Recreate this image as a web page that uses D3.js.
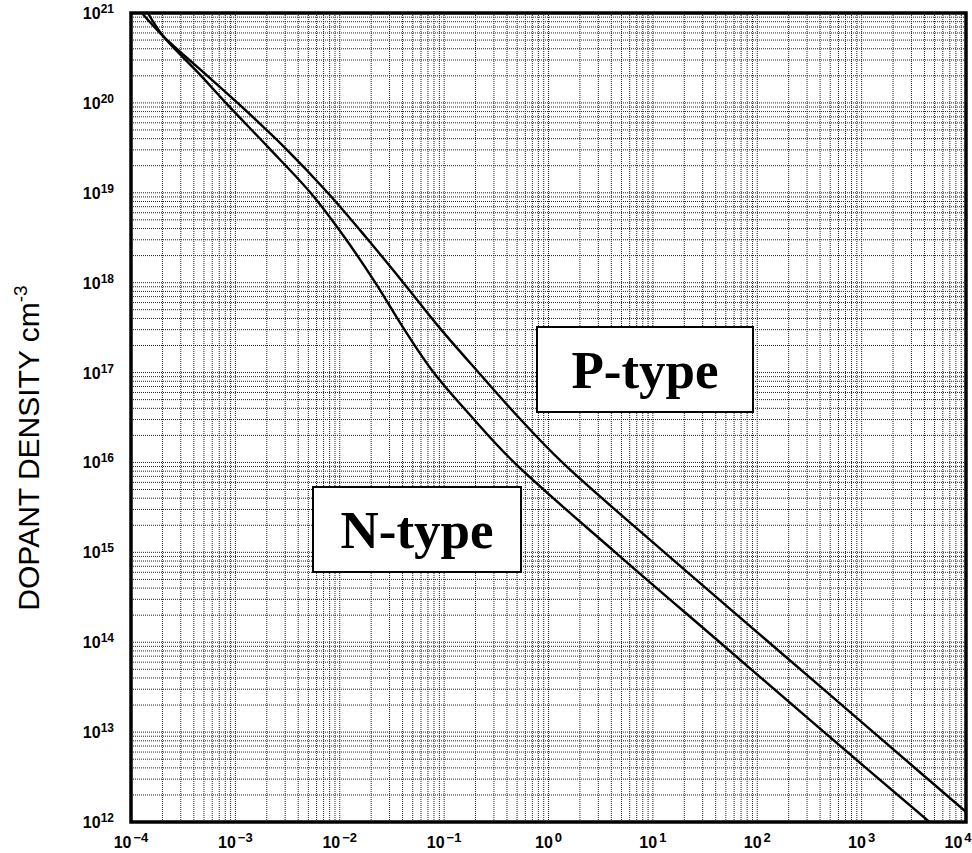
<!DOCTYPE html>
<html>
<head>
<meta charset="utf-8">
<script src="https://cdn.jsdelivr.net/npm/d3@7"></script>
<style>
  body { margin: 0; background: #fff; }
</style>
</head>
<body>
<div id="chart"></div>
<script>
// axis decades (powers of ten)
var xExponents = [-4, -3, -2, -1, 0, 1, 2, 3, 4];
var yExponents = [12, 13, 14, 15, 16, 17, 18, 19, 20, 21];

// N-type: dopant density (cm-3) vs resistivity (ohm-cm)
var nDensity     = [1e21, 5.5e20, 2e20, 1e20, 3.16e19, 1e19, 3.16e18, 1e18, 3.16e17, 1e17, 3.16e16, 1e16, 1e15, 1e14, 1e13, 1e12];
var nResistivity = [1.45e-4, 2.04e-4, 4.7e-4, 8.1e-4, 2.09e-3, 5.25e-3, 0.0112, 0.0219, 0.0405, 0.0794, 0.186, 0.468, 4.37, 43.7, 437, 4470];

// P-type
var pDensity     = [1e21, 5.5e20, 2e20, 1e20, 3.16e19, 1e19, 3.16e18, 1e18, 3.16e17, 1e17, 3.16e16, 1e16, 1e15, 1e14, 1e13, 1e12];
var pResistivity = [1.27e-4, 2.04e-4, 5.4e-4, 1.05e-3, 2.99e-3, 7.67e-3, 0.018, 0.0407, 0.0902, 0.214, 0.519, 1.355, 12.9, 129, 1294, 12940];

var seriesNames = ["N-type", "P-type"];

var margin = {top: 13, right: 6, bottom: 31, left: 131};
var width = 972 - margin.left - margin.right,
    height = 853 - margin.top - margin.bottom;

var svg = d3.select("#chart").append("svg")
    .attr("width", 972)
    .attr("height", 853);

var g = svg.append("g")
    .attr("transform", "translate(" + margin.left + "," + margin.top + ")");

var x = d3.scaleLog()
    .domain([1e-4, 1e4])
    .range([0, width]);

var y = d3.scaleLog()
    .domain([1e12, 1e21])
    .range([height, 0]);

// minor + major grid values (1..9 in each decade)
var xGrid = [], yGrid = [];
xExponents.forEach(function(e, i) {
    if (i === xExponents.length - 1) { xGrid.push(Math.pow(10, e)); return; }
    for (var k = 1; k <= 9; k++) xGrid.push(k * Math.pow(10, e));
});
yExponents.forEach(function(e, i) {
    if (i === yExponents.length - 1) { yGrid.push(Math.pow(10, e)); return; }
    for (var k = 1; k <= 9; k++) yGrid.push(k * Math.pow(10, e));
});

g.append("g").attr("class", "grid")
    .selectAll("line.v")
    .data(xGrid)
    .enter().append("line")
    .attr("x1", d => x(d)).attr("x2", d => x(d))
    .attr("y1", 0).attr("y2", height)
    .attr("stroke", "#222")
    .attr("stroke-width", 1)
    .attr("stroke-dasharray", "1,1");

g.append("g").attr("class", "grid")
    .selectAll("line.h")
    .data(yGrid)
    .enter().append("line")
    .attr("y1", d => y(d)).attr("y2", d => y(d))
    .attr("x1", 0).attr("x2", width)
    .attr("stroke", "#222")
    .attr("stroke-width", 1)
    .attr("stroke-dasharray", "1,1");

// curves
g.append("clipPath").attr("id", "clip")
    .append("rect").attr("width", width).attr("height", height);

var line = d3.line()
    .x(d => x(d[0]))
    .y(d => y(d[1]))
    .curve(d3.curveCatmullRom.alpha(0.5));

var series = [
    d3.zip(nResistivity, nDensity),
    d3.zip(pResistivity, pDensity)
];

g.append("g").attr("clip-path", "url(#clip)")
    .selectAll("path")
    .data(series)
    .enter().append("path")
    .attr("d", d => line(d.slice().sort((a, b) => a[0] - b[0])))
    .attr("fill", "none")
    .attr("stroke", "#000")
    .attr("stroke-width", 2.4);

// frame
g.append("rect")
    .attr("width", width).attr("height", height)
    .attr("fill", "none")
    .attr("stroke", "#000")
    .attr("stroke-width", 3.5);

// tick labels
var yLab = g.append("g").selectAll("text")
    .data(yExponents)
    .enter().append("text")
    .attr("x", -17)
    .attr("y", d => y(Math.pow(10, d)) + 6)
    .attr("text-anchor", "end")
    .style("font-family", "'Liberation Sans', Arial, sans-serif")
    .style("font-weight", "bold")
    .style("font-size", "16px");
yLab.append("tspan").text("10");
yLab.append("tspan").attr("dy", -6).style("font-size", "12px").text(d => d);

var xLab = g.append("g").selectAll("text")
    .data(xExponents)
    .enter().append("text")
    .attr("x", (d, i) => x(Math.pow(10, d)) + (i === xExponents.length - 1 ? -8 : 0))
    .attr("y", height + 26)
    .attr("text-anchor", "middle")
    .style("font-family", "'Liberation Sans', Arial, sans-serif")
    .style("font-weight", "bold")
    .style("font-size", "16px");
xLab.append("tspan").text("10");
xLab.append("tspan").attr("dy", -6).attr("dx", 2).style("font-size", "13px")
    .text(d => d < 0 ? "\u2212" + Math.abs(d) : "" + d);

// y axis title
var yTitle = svg.append("text")
    .attr("transform", "translate(39,448) rotate(-90)")
    .attr("text-anchor", "middle")
    .style("font-family", "'Liberation Sans', Arial, sans-serif")
    .style("font-size", "30px");
yTitle.append("tspan").text("DOPANT DENSITY cm");
yTitle.append("tspan").attr("dy", -12).style("font-size", "19px").text("-3");

// series labels in boxes
var labelBoxes = [
    {name: seriesNames[1], x: 537, y: 327, w: 216, h: 85},
    {name: seriesNames[0], x: 313, y: 487, w: 208, h: 85}
];
var lb = svg.append("g").selectAll("g")
    .data(labelBoxes)
    .enter().append("g")
    .attr("transform", d => "translate(" + d.x + "," + d.y + ")");
lb.append("rect")
    .attr("width", d => d.w).attr("height", d => d.h)
    .attr("fill", "#fff")
    .attr("stroke", "#000")
    .attr("stroke-width", 2);
lb.append("text")
    .attr("x", d => d.w / 2)
    .attr("y", 61)
    .attr("text-anchor", "middle")
    .style("font-family", "'Liberation Serif', 'Times New Roman', serif")
    .style("font-weight", "bold")
    .style("font-size", "53px")
    .text(d => d.name);
</script>
</body>
</html>
